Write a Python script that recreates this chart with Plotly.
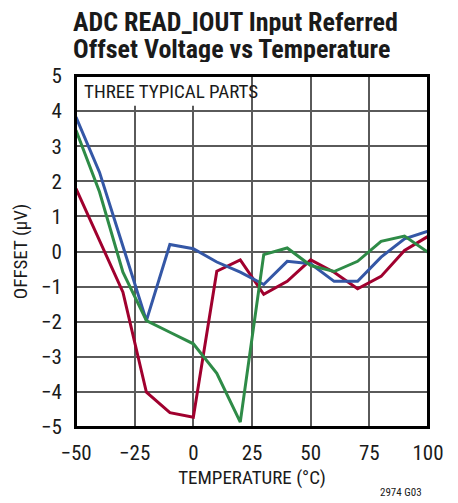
import plotly.graph_objects as go

temps = [-50, -40, -30, -20, -10, 0, 10, 20, 30, 40, 50, 60, 70, 80, 90, 100]
blue_part = [3.83, 2.26, 0.15, -1.97, 0.2, 0.08, -0.3, -0.59, -0.94, -0.28, -0.35, -0.85, -0.85, -0.16, 0.36, 0.58]
green_part = [3.45, 1.7, -0.59, -1.97, -2.3, -2.63, -3.47, -4.86, -0.09, 0.1, -0.4, -0.57, -0.28, 0.29, 0.44, -0.02]
red_part = [1.79, 0.31, -1.16, -4.01, -4.59, -4.72, -0.56, -0.24, -1.22, -0.85, -0.24, -0.59, -1.06, -0.71, 0.03, 0.43]

x_ticks = [-50, -25, 0, 25, 50, 75, 100]
x_tick_labels = ["\u221250", "\u221225", "0", "25", "50", "75", "100"]
y_ticks = [-5, -4, -3, -2, -1, 0, 1, 2, 3, 4, 5]
y_tick_labels = ["\u22125", "\u22124", "\u22123", "\u22122", "\u22121", "0", "1", "2", "3", "4", "5"]

FONT = "Liberation Sans Narrow, Roboto Condensed, Liberation Sans, Arial, sans-serif"
INK = "#1a1a1a"

fig = go.Figure()
for ys, col in [(red_part, "#a0002e"), (blue_part, "#3457a6"), (green_part, "#2e8b47")]:
    fig.add_trace(go.Scatter(x=temps, y=ys, mode="lines",
                             line=dict(color=col, width=3), showlegend=False))

fig.update_layout(
    width=450, height=495,
    margin=dict(l=68, r=30, t=68, b=76),
    paper_bgcolor="white", plot_bgcolor="white",
    font=dict(family=FONT, color=INK, size=19),
    xaxis=dict(range=[-50, 100], tickvals=x_ticks, ticktext=x_tick_labels,
               showgrid=True, gridcolor="#5a5a5a", gridwidth=1.5,
               showline=True, linecolor="black", linewidth=2, mirror=True,
               ticks="", zeroline=False, tickfont=dict(size=21), ticklabelstandoff=6,
               title=dict(text="TEMPERATURE (\u00b0C)", font=dict(size=19), standoff=6)),
    yaxis=dict(range=[-5, 5], tickvals=y_ticks, ticktext=y_tick_labels,
               showgrid=True, gridcolor="#5a5a5a", gridwidth=1.5,
               showline=True, linecolor="black", linewidth=2, mirror=True,
               ticks="", zeroline=False, tickfont=dict(size=21), ticklabelstandoff=8,
               title=dict(text="OFFSET (\u03bcV)", font=dict(size=19), standoff=8)),
)

for line, ypix in [("ADC READ_IOUT Input Referred", 14), ("Offset Voltage vs Temperature", 41)]:
    fig.add_annotation(text="<b>" + line + "</b>", xref="paper", yref="paper",
                       x=-0.012, y=1.0, yshift=68 - ypix, borderpad=0, height=26,
                       xanchor="left", yanchor="middle", valign="middle", showarrow=False,
                       font=dict(size=26, family=FONT, color=INK))

fig.add_shape(type="rect", xref="x", yref="y", x0=-50, x1=6, y0=4.15, y1=5,
              fillcolor="white", line=dict(width=0), layer="above")
fig.add_shape(type="rect", xref="paper", yref="paper", x0=0, x1=1, y0=0, y1=1,
              line=dict(color="black", width=2), layer="above")
fig.add_annotation(text="THREE TYPICAL PARTS", xref="x", yref="y", x=-47.5, y=4.55,
                   xanchor="left", yanchor="middle", showarrow=False,
                   font=dict(size=19, family=FONT, color=INK))
fig.add_annotation(text="2974 G03", xref="paper", yref="paper", x=0.99, y=0, yshift=-65,
                   xanchor="right", yanchor="middle", showarrow=False,
                   font=dict(size=11, family=FONT, color=INK))

fig.write_html("out.html")
